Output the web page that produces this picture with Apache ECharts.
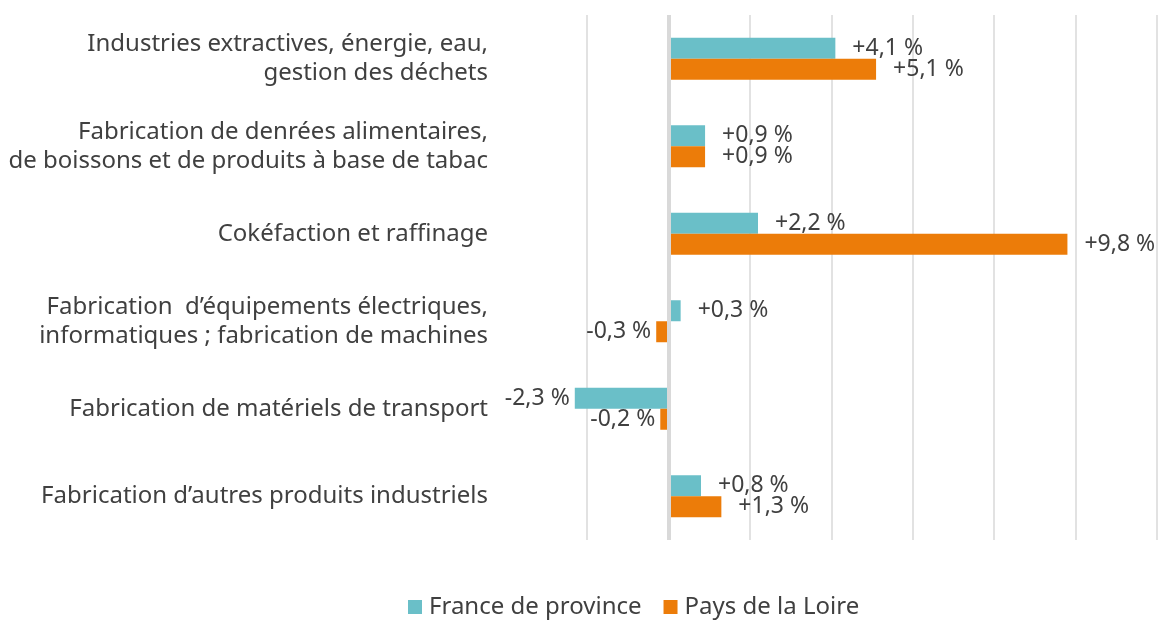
<!DOCTYPE html>
<html>
<head>
<meta charset="utf-8">
<script src="https://cdn.jsdelivr.net/npm/echarts@6/dist/echarts.min.js"></script>
<style>
	html, body { margin: 0; padding: 0; background: #fff; }
	#chart { width: 1165px; height: 620px; }
</style>
</head>
<body>
<div id="chart"></div>
<script>
	// secteurs (du haut vers le bas)
	var categories = [
		'Industries extractives, énergie, eau,\ngestion des déchets',
		'Fabrication de denrées alimentaires,\nde boissons et de produits à base de tabac',
		'Cokéfaction et raffinage',
		'Fabrication  d’équipements électriques,\ninformatiques ; fabrication de machines',
		'Fabrication de matériels de transport',
		'Fabrication d’autres produits industriels'
	]
	var franceProvince = [4.1, 0.9, 2.2, 0.3, -2.3, 0.8]
	var paysLoire = [5.1, 0.9, 9.8, -0.3, -0.2, 1.3]
	var seriesNames = ['France de province', 'Pays de la Loire']

	var fontName = 'Noto Sans'
	var textColor = '#404040'

	function fmt(v) {
		return (v > 0 ? '+' : '') + v.toFixed(1).replace('.', ',') + ' %'
	}

	// position du label selon le signe
	function toData(arr) {
		return arr.map(function (v) {
			return {
				value: v,
				label: {
					position: v < 0 ? 'left' : 'right',
					distance: v < 0 ? 5 : 17
				}
			}
		})
	}

	function makeSeries(name, values, color) {
		return {
			name: name,
			type: 'bar',
			data: toData(values),
			barWidth: 21,
			barGap: '0%',
			clip: false,
			itemStyle: {
				color: color
			},
			label: {
				show: true,
				color: textColor,
				fontFamily: fontName,
				fontSize: 23,
				formatter: function (p) {
					return fmt(p.value)
				}
			}
		}
	}

	var series = [
		makeSeries(seriesNames[0], franceProvince, '#6ABFC8'),
		makeSeries(seriesNames[1], paysLoire, '#EC7C09')
	]
	// ligne du zéro
	series[0].markLine = {
		silent: true,
		symbol: 'none',
		label: { show: false },
		lineStyle: { color: '#d9d9d9', width: 4, type: 'solid' },
		data: [{ xAxis: 0 }]
	}

	var option = {
		animation: false,
		textStyle: { fontFamily: fontName },
		grid: {
			left: 587,
			right: 8,
			top: 15,
			bottom: 80
		},
		legend: {
			data: seriesNames,
			left: 403,
			bottom: -4,
			icon: 'rect',
			itemWidth: 14,
			itemHeight: 14,
			itemGap: 22,
			textStyle: {
				color: textColor,
				fontSize: 24,
				fontFamily: fontName,
				padding: [0, 0, 0, 2]
			}
		},
		xAxis: {
			type: 'value',
			min: -2,
			max: 12,
			interval: 2,
			axisLabel: { show: false },
			axisLine: { show: false },
			axisTick: { show: false },
			splitLine: {
				lineStyle: { color: '#d9d9d9', width: 1.5 }
			}
		},
		yAxis: {
			type: 'category',
			inverse: true,
			data: categories,
			axisLine: { show: false, onZero: false },
			axisTick: { show: false },
			axisLabel: {
				margin: 99,
				color: textColor,
				fontSize: 24,
				lineHeight: 29,
				align: 'right',
				fontFamily: fontName
			}
		},
		series: series
	}

	var chart = echarts.init(document.getElementById('chart'))
	chart.setOption(option)
</script>
</body>
</html>
